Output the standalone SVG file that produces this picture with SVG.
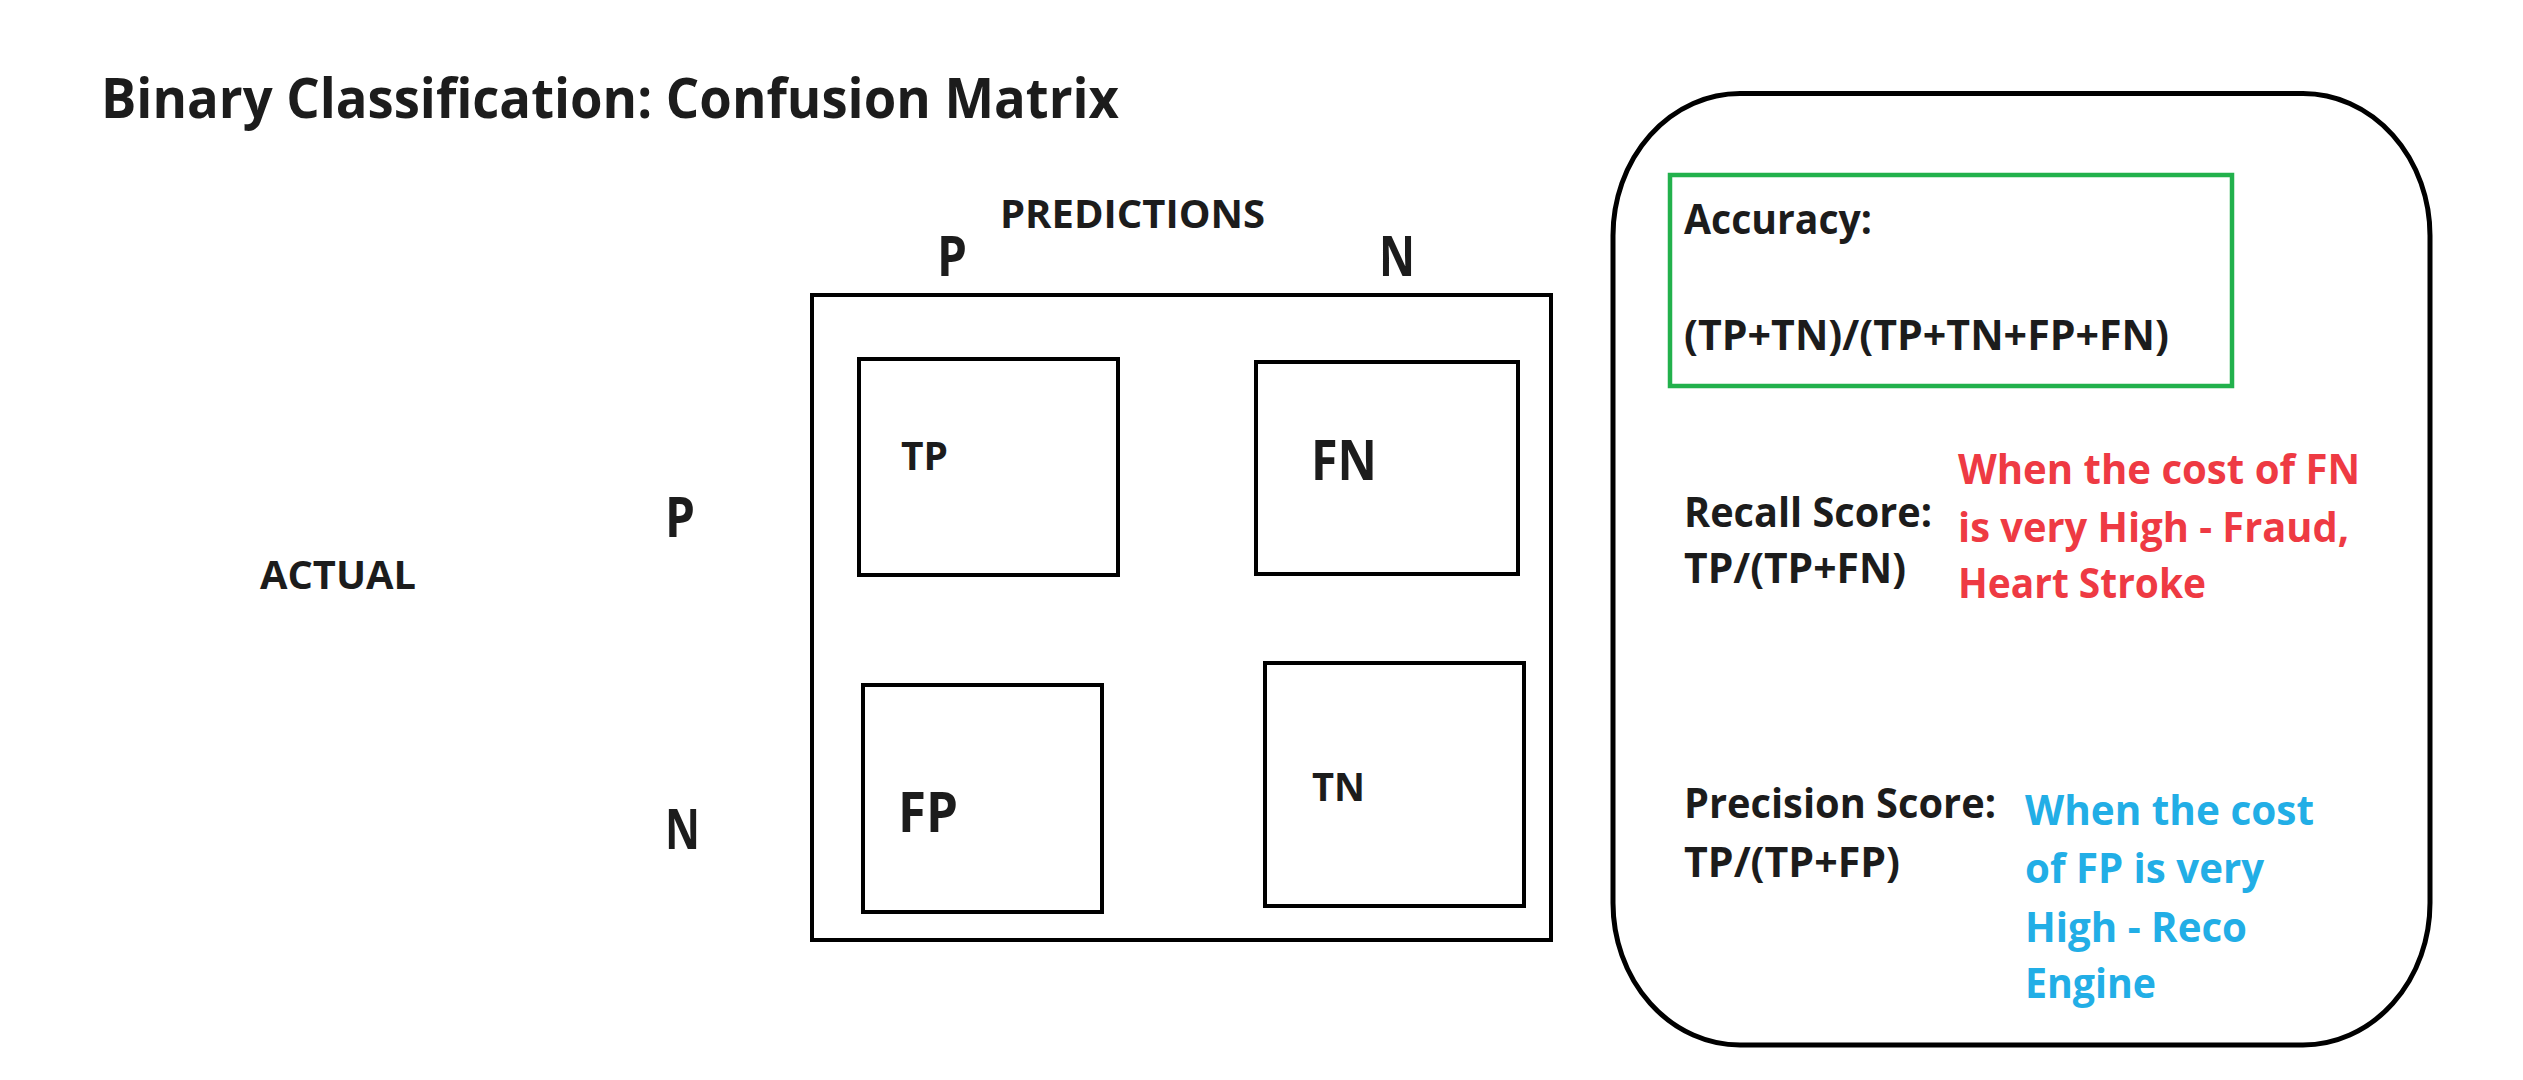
<svg xmlns="http://www.w3.org/2000/svg" width="2523" height="1080" viewBox="0 0 2523 1080">
<style>
.t{font-family:"Open Sans","Noto Sans","Liberation Sans",sans-serif;font-weight:700;fill:#1c1c1c}
.box{fill:none;stroke:#000;stroke-width:4}
.red{fill:#ee3a43}
.blue{fill:#22aee6}
</style>
<rect x="0" y="0" width="2523" height="1080" fill="#fff"/>
<g id="title"><text class="t" x="101" y="118" font-size="56" textLength="1018" lengthAdjust="spacingAndGlyphs">Binary Classification: Confusion Matrix</text></g>
<g id="predictions-label">
<text class="t" x="1000" y="228" font-size="39" textLength="265" lengthAdjust="spacingAndGlyphs">PREDICTIONS</text>
<text class="t" x="937" y="276" font-size="56" textLength="30" lengthAdjust="spacingAndGlyphs">P</text>
<text class="t" x="1379" y="276" font-size="56" textLength="36" lengthAdjust="spacingAndGlyphs">N</text>
</g>
<g id="actual-label">
<text class="t" x="260" y="589" font-size="40" textLength="156" lengthAdjust="spacingAndGlyphs">ACTUAL</text>
<text class="t" x="665" y="537" font-size="56" textLength="30" lengthAdjust="spacingAndGlyphs">P</text>
<text class="t" x="665" y="849" font-size="56" textLength="35" lengthAdjust="spacingAndGlyphs">N</text>
</g>
<g id="matrix"><rect class="box" x="812" y="295" width="739" height="645"/></g>
<g id="tp"><rect class="box" x="859" y="359" width="259" height="216"/><text class="t" x="901" y="470" font-size="39" textLength="47" lengthAdjust="spacingAndGlyphs">TP</text></g>
<g id="fn"><rect class="box" x="1256" y="362" width="262" height="212"/><text class="t" x="1311" y="480" font-size="55" textLength="66" lengthAdjust="spacingAndGlyphs">FN</text></g>
<g id="fp"><rect class="box" x="863" y="685" width="239" height="227"/><text class="t" x="898" y="832" font-size="56" textLength="60" lengthAdjust="spacingAndGlyphs">FP</text></g>
<g id="tn"><rect class="box" x="1265" y="663" width="259" height="243"/><text class="t" x="1312" y="801" font-size="39" textLength="53" lengthAdjust="spacingAndGlyphs">TN</text></g>
<g id="metrics-panel">
<rect x="1613" y="93.5" width="817" height="951.5" rx="127" ry="142" fill="none" stroke="#000" stroke-width="5"/>
</g>
<g id="accuracy">
<rect x="1670" y="175" width="562" height="211" fill="none" stroke="#22b14c" stroke-width="4.5"/>
<text class="t" x="1684" y="234" font-size="41" textLength="188" lengthAdjust="spacingAndGlyphs">Accuracy:</text>
<text class="t" x="1684" y="350" font-size="41" textLength="485" lengthAdjust="spacingAndGlyphs">(TP+TN)/(TP+TN+FP+FN)</text>
</g>
<g id="recall">
<text class="t" x="1684" y="527" font-size="41" textLength="248" lengthAdjust="spacingAndGlyphs">Recall Score:</text>
<text class="t" x="1684" y="583" font-size="41" textLength="222" lengthAdjust="spacingAndGlyphs">TP/(TP+FN)</text>
<text class="t red" x="1958" y="484" font-size="42" textLength="402" lengthAdjust="spacingAndGlyphs">When the cost of FN</text>
<text class="t red" x="1958" y="542" font-size="42" textLength="391" lengthAdjust="spacingAndGlyphs">is very High - Fraud,</text>
<text class="t red" x="1958" y="598" font-size="42" textLength="248" lengthAdjust="spacingAndGlyphs">Heart Stroke</text>
</g>
<g id="precision">
<text class="t" x="1684" y="818" font-size="41" textLength="312" lengthAdjust="spacingAndGlyphs">Precision Score:</text>
<text class="t" x="1684" y="877" font-size="41" textLength="216" lengthAdjust="spacingAndGlyphs">TP/(TP+FP)</text>
<text class="t blue" x="2025" y="825" font-size="42" textLength="289" lengthAdjust="spacingAndGlyphs">When the cost</text>
<text class="t blue" x="2025" y="883" font-size="42" textLength="239" lengthAdjust="spacingAndGlyphs">of FP is very</text>
<text class="t blue" x="2025" y="942" font-size="42" textLength="222" lengthAdjust="spacingAndGlyphs">High - Reco</text>
<text class="t blue" x="2025" y="998" font-size="42" textLength="131" lengthAdjust="spacingAndGlyphs">Engine</text>
</g>
<g id="connectors"/>
</svg>
